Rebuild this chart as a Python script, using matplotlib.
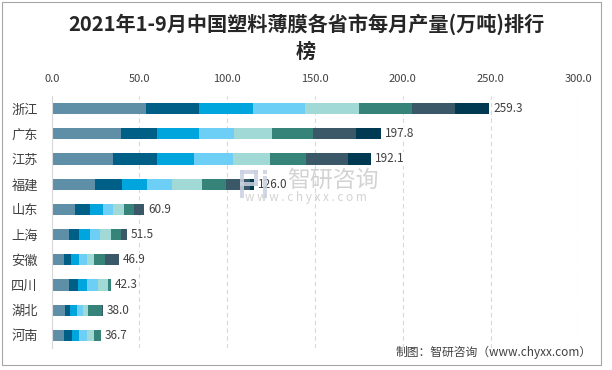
import matplotlib
matplotlib.use("Agg")
import matplotlib.pyplot as plt
from matplotlib.patches import Rectangle
import numpy as np

plt.rcParams['font.family'] = ['Noto Sans CJK SC', 'DejaVu Sans']

provinces = ["浙江", "广东", "江苏", "福建", "山东", "上海", "安徽", "四川", "湖北", "河南"]
months = ["1-2月", "3月", "4月", "5月", "6月", "7月", "8月", "9月"]
m12 = [53.7, 39.5, 34.9, 24.7, 13.3, 9.9, 7.0, 9.9, 7.4, 7.0]
m3 = [30.2, 20.5, 25.1, 15.4, 8.5, 5.7, 4.0, 5.1, 3.0, 4.6]
m4 = [30.6, 23.9, 21.1, 14.2, 7.4, 6.2, 4.6, 5.1, 4.0, 4.1]
m5 = [29.8, 20.0, 22.2, 14.3, 5.7, 5.7, 4.5, 6.3, 3.2, 4.4]
m6 = [30.8, 21.6, 21.1, 17.0, 6.3, 6.3, 4.0, 5.7, 3.3, 4.2]
m7 = [30.2, 23.6, 20.5, 13.5, 5.7, 5.7, 6.3, 1.7, 7.6, 3.6]
m8 = [24.5, 24.3, 24.0, 13.9, 5.9, 3.4, 8.0, 0.0, 0.5, 0.0]
m9 = [19.4, 14.2, 13.1, 2.3, 0.0, 0.0, 0.0, 0.0, 0.0, 0.0]
totals = [259.3, 197.8, 192.1, 126.0, 60.9, 51.5, 46.9, 42.3, 38.0, 36.7]
xticks = [0, 50, 100, 150, 200, 250, 300]

series = [m12, m3, m4, m5, m6, m7, m8, m9]
colors = ["#5f8fa6", "#005f87", "#00a5de", "#6dcff5", "#a1d9d6", "#358379", "#3b5868", "#003a52"]

fig = plt.figure(figsize=(6.12, 3.70), dpi=100)
ax = fig.add_axes([51.7/612, 1-348/370, (578.3-51.7)/612, (348-96)/370])

y = np.arange(len(provinces))
left = np.zeros(len(provinces))
for vals, c, name in zip(series, colors, months):
    v = np.array(vals)
    ax.barh(y, v, left=left, height=0.44, color=c, label=name, zorder=3)
    left += v

ax.set_xlim(0, 300)
ax.set_ylim(len(provinces) - 0.5, -0.5)
ax.set_yticks(y)
ax.set_yticklabels(provinces, fontsize=9.5, color='#404040')
ax.xaxis.tick_top()
ax.set_xticks(xticks)
ax.set_xticklabels([f"{t:.1f}" for t in xticks], fontsize=8, color='#404040')
ax.tick_params(axis='both', length=0)
ax.tick_params(axis='x', pad=9)
ax.tick_params(axis='y', pad=10)
ax.grid(axis='x', color='#d9d9d9', linestyle=(0, (4, 3)), linewidth=0.8, zorder=0)
for s in ['top', 'right', 'bottom']:
    ax.spines[s].set_visible(False)
ax.spines['left'].set_color('#d9d9d9')
ax.spines['left'].set_zorder(4)

# watermark logo (shapes, figure pixel coords converted)
def frect(x0, y0, w, h, color):
    fig.patches.append(Rectangle((x0/612, 1-(y0+h)/370), w/612, h/370,
                                 transform=fig.transFigure, facecolor=color,
                                 edgecolor='none', alpha=0.85, zorder=6))
lc = '#c9d1e0'
frect(240, 170, 4, 28, lc)   # P stem
frect(240, 170, 18, 4, lc)   # P top
frect(254, 170, 4, 16, lc)   # P right
frect(240, 182, 18, 4, lc)   # P middle
frect(263, 176, 4, 22, lc)   # i stem
frect(263, 170, 4, 4, lc)    # i dot

for yi, end, tot in zip(y, left, totals):
    ax.text(end + 2.3, yi, f"{tot:.1f}", va='center', ha='left', fontsize=8.5,
            color='#404040', zorder=7,
            bbox=dict(facecolor='white', edgecolor='none', pad=0.3))

# title
fig.text(0.5, 1-24/370, "2021年1-9月中国塑料薄膜各省市每月产量(万吨)排行", ha='center', va='center',
         fontsize=14.5, fontweight='bold', color='#262626')
fig.text(0.5, 1-51/370, "榜", ha='center', va='center',
         fontsize=14.5, fontweight='bold', color='#262626')

# watermark text
fig.text(333/612, 1-180/370, "智研咨询", ha='center', va='center', fontsize=16.5,
         color='#c8c8c8', alpha=0.8, zorder=6)
fig.text(306/612, 1-198/370, "w w w . c h y x x . c o m", ha='center', va='center', fontsize=8.5,
         color='#c8c8c8', alpha=0.8, zorder=6)

# footer
fig.text(592/612, 1-352/370, "制图：智研咨询（www.chyxx.com）", ha='right', va='center',
         fontsize=8.5, color='#404040')

# frame
fig.patches.append(Rectangle((1.5/612, 1-365/370), (601-1.5)/612, (365-2)/370,
                             transform=fig.transFigure, fill=False, edgecolor='#a6a6a6',
                             linewidth=0.8))

fig.savefig("out.png", dpi=100)
